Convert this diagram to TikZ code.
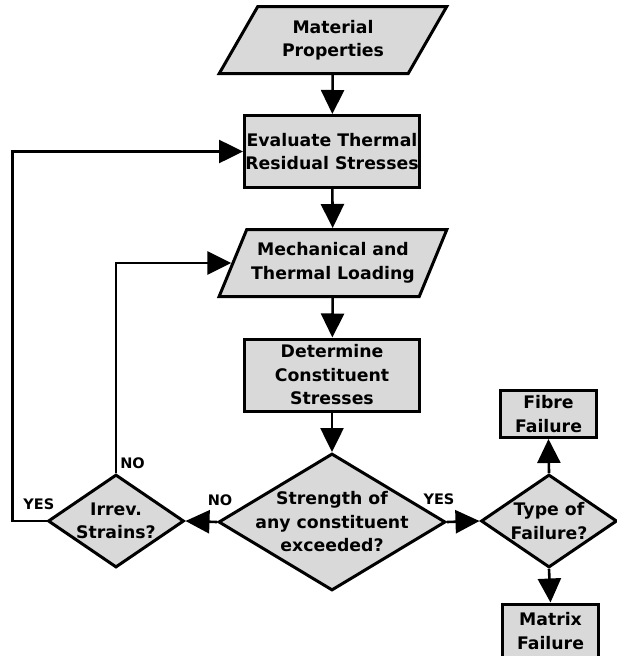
\documentclass[tikz,border=0pt]{standalone}
\usepackage{fontspec}
\setmainfont{DejaVu Sans}
\usetikzlibrary{shapes.geometric,arrows.meta}

\begin{document}
\begin{tikzpicture}[x=1pt, y=-1pt,
        every node/.style = {
            font = \bfseries\fontsize{17.3}{23.5}\selectfont,
            align = center
        },
        process/.style = {
            draw = black,
            fill = black!15,
            line width = 3pt,
            rectangle,
            inner sep = 0pt,
            minimum width = 175pt,
            minimum height = 72pt
        },
        io/.style = {
            draw = black,
            fill = black!15,
            line width = 3pt,
            trapezium,
            trapezium left angle = 57,
            trapezium right angle = 123,
            trapezium stretches = true,
            inner sep = 0pt,
            minimum width = 228pt,
            minimum height = 67pt
        },
        decision/.style = {
            draw = black,
            fill = black!15,
            line width = 3pt,
            diamond,
            inner sep = 0pt,
            shape aspect = 1.45,
            minimum width = 136pt,
            minimum height = 93pt
        },
        outcome/.style = {
            process,
            minimum width = 96pt,
            minimum height = 47pt
        },
        answer/.style = {
            font = \bfseries\fontsize{14.5}{16}\selectfont,
            inner sep = 0pt
        },
        arr/.style = {
            -{Triangle[length = 24pt, width = 23pt]},
            line width = 2.6pt
        }]
    \useasboundingbox (0, 0) rectangle (617, 656);

    \node[io] (matprop) at (333, 40) {Material\\Properties};
    \node[process] (evalres) at (332, 151.5) {Evaluate Thermal\\Residual Stresses};
    \node[io] (mechload) at (333, 263) {Mechanical and\\Thermal Loading};
    \node[process] (detstress) at (332, 375) {Determine\\Constituent\\Stresses};
    \node[decision, shape aspect = 1.64, inner sep = -6pt, minimum width = 227pt, minimum height = 137pt] (strength) at (332, 522) {Strength of\\any constituent\\exceeded?};
    \node[decision] (irrev) at (116, 521) {Irrev.\\Strains?};
    \node[decision] (failtype) at (549, 521) {Type of\\Failure?};
    \node[outcome] (fibre) at (548.5, 414) {Fibre\\Failure};
    \node[outcome, minimum height = 54pt] (matrix) at (550.5, 631) {Matrix\\Failure};

    \draw[arr] (matprop) -- (evalres);
    \draw[arr] (evalres) -- (mechload);
    \draw[arr] (mechload) -- (detstress);
    \draw[arr] (detstress) -- (strength);
    \draw[arr] (strength.west) -- node[answer, pos = 0, anchor = south, yshift = 15pt, xshift = 3pt] (no1) {NO} (irrev.east);
    \draw[arr] (strength.east) -- node[answer, pos = 0, anchor = south, yshift = 16pt, xshift = -8pt] (yes1) {YES} (failtype.west);
    \draw[arr] (failtype.north) -- (fibre.south);
    \draw[arr] (failtype.south) -- (matrix.north);
    % loops back from the irreversible strain check
    \draw[arr] (irrev.north) node[answer, anchor = south west, xshift = 3pt, yshift = 3pt] (no2) {NO} |- (mechload.west);
    \draw[arr] (irrev.west) node[answer, anchor = south east, xshift = 9pt, yshift = 10pt] (yes2) {YES} -- ++(-34, 0) |- (evalres.west);
\end{tikzpicture}
\end{document}
